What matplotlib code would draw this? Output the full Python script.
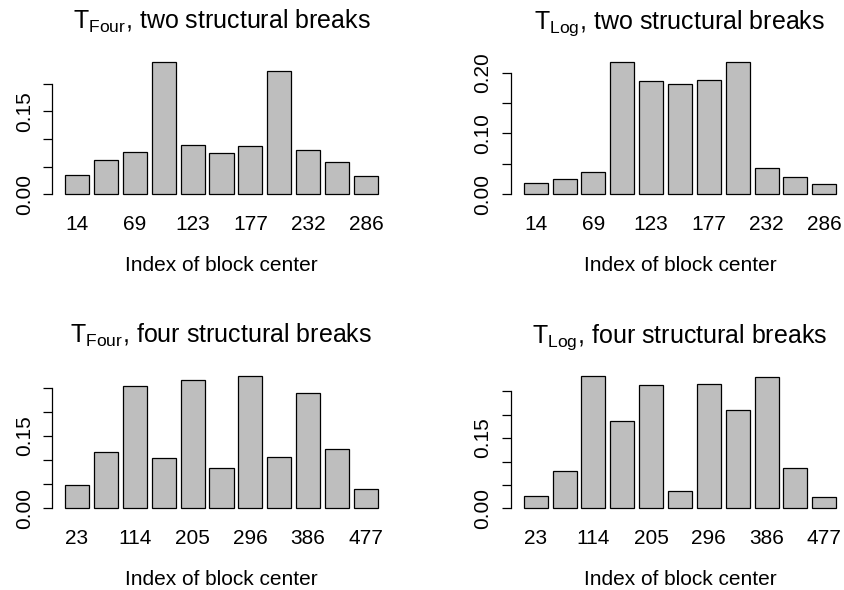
"""Block-center barplots for T_Four / T_Log under two and four structural breaks."""

import matplotlib

matplotlib.use("Agg")
import matplotlib.pyplot as plt

plt.rcParams["font.family"] = ["Liberation Sans", "DejaVu Sans"]
plt.rcParams["mathtext.default"] = "regular"

# --- data ---
titles = [
    r"$T_{Four}$, two structural breaks",
    r"$T_{Log}$, two structural breaks",
    r"$T_{Four}$, four structural breaks",
    r"$T_{Log}$, four structural breaks",
]
two_names = ["14", "", "69", "", "123", "", "177", "", "232", "", "286"]
four_names = ["23", "", "114", "", "205", "", "296", "", "386", "", "477"]

four_two = [0.034, 0.062, 0.076, 0.240, 0.089, 0.074, 0.087, 0.223, 0.080, 0.058, 0.033]
log_two = [0.0175, 0.025, 0.037, 0.2175, 0.186, 0.182, 0.187, 0.2175, 0.043, 0.028, 0.016]
four_four = [0.049, 0.117, 0.2535, 0.104, 0.267, 0.084, 0.275, 0.107, 0.240, 0.124, 0.040]
log_four = [0.026, 0.079, 0.2834, 0.1875, 0.264, 0.038, 0.266, 0.2095, 0.280, 0.086, 0.025]

yticks_two_four = [0.0, 0.05, 0.10, 0.15, 0.20]
ylabels_two_four = ["0.00", "", "", "0.15", ""]
yticks_two_log = [0.0, 0.05, 0.10, 0.15, 0.20]
ylabels_two_log = ["0.00", "", "0.10", "", "0.20"]
yticks_four = [0.0, 0.05, 0.10, 0.15, 0.20, 0.25]
ylabels_four = ["0.00", "", "", "0.15", "", ""]

panels = [
    (four_two, two_names, yticks_two_four, ylabels_two_four),
    (log_two, two_names, yticks_two_log, ylabels_two_log),
    (four_four, four_names, yticks_four, ylabels_four),
    (log_four, four_names, yticks_four, ylabels_four),
]

W, H = 845, 590
fig = plt.figure(figsize=(W / 100, H / 100), dpi=100)

# plot regions in pixels: (left, top, right, bottom)
boxes = [
    (52.5, 56.7, 390.5, 199.3),
    (511.2, 56.7, 848.8, 199.3),
    (52.5, 370.4, 390.5, 513.6),
    (511.2, 370.4, 848.8, 513.6),
]

for (vals, names, yt, yl), title, (l, t, r, b) in zip(panels, titles, boxes):
    ax = fig.add_axes([l / W, 1 - b / H, (r - l) / W, (b - t) / H])
    n = len(vals)
    x = [0.7 + 1.2 * i for i in range(n)]  # R barplot: width 1, space 0.2
    ax.bar(x, vals, width=1.0, color="#bebebe", edgecolor="black", linewidth=0.9)
    span = x[-1] + 0.5 - 0.2
    ax.set_xlim(0.2 - 0.04 * span, x[-1] + 0.5 + 0.04 * span)
    top = max(vals)
    ax.set_ylim(-0.04 * top, 1.04 * top)

    ax.set_xticks(x, names, fontsize=15)
    ax.set_yticks(yt, yl, fontsize=15)
    ax.tick_params(axis="x", length=0, pad=11)
    ax.tick_params(axis="y", length=6.5, width=0.9, pad=7, labelrotation=90)
    for lab in ax.get_yticklabels():
        lab.set_va("center")

    for s in ("top", "right", "bottom"):
        ax.spines[s].set_visible(False)
    ax.spines["left"].set_bounds(yt[0], yt[-1])
    ax.spines["left"].set_linewidth(0.9)

    ax.set_xlabel("Index of block center", fontsize=15, labelpad=16)
    ax.set_title(title, fontsize=18, pad=20)

fig.savefig("out.png", dpi=100)
